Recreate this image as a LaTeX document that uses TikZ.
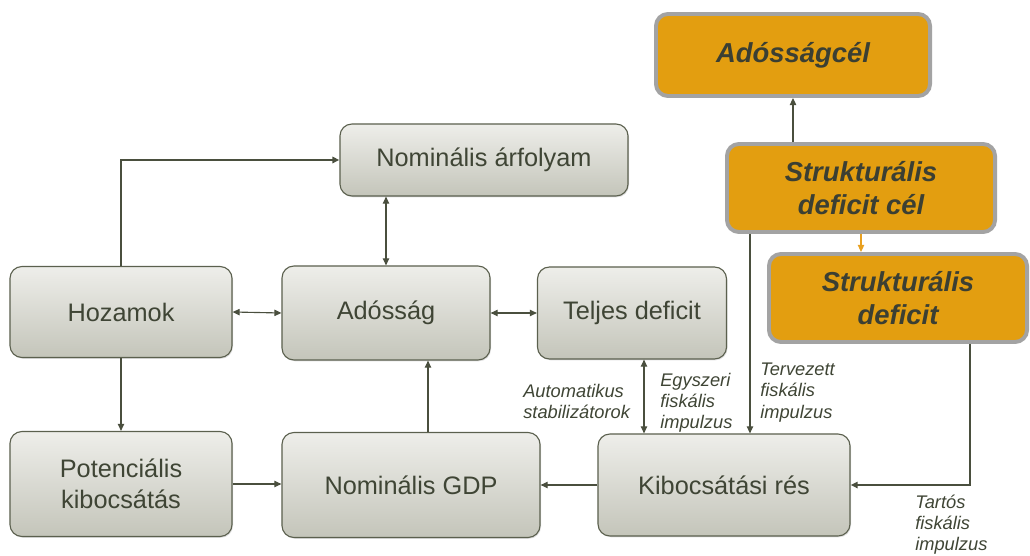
\documentclass[tikz,border=0pt]{standalone}
\usepackage{fontspec}
\setmainfont{Liberation Sans}
\usetikzlibrary{shadows,arrows.meta}

\definecolor{txtgreen}{HTML}{3F4535}
\definecolor{boxrim}{HTML}{5B604E}
\definecolor{boxtop}{HTML}{EEEEEA}
\definecolor{boxbottom}{HTML}{C4C5BA}
\definecolor{goalorange}{HTML}{E39E10}
\definecolor{goalrim}{HTML}{A3A3A3}
\definecolor{goaltext}{HTML}{3B3F33}
\definecolor{linkcol}{HTML}{4A4F3E}
\definecolor{linkorange}{HTML}{E8A020}

\tikzset{
  greybox/.style={draw=boxrim, line width=0.8pt, rounded corners=0.3cm,
    top color=boxtop, bottom color=boxbottom, text=txtgreen, align=center,
    font=\fontsize{18}{22}\selectfont,
    drop shadow={opacity=0.25, shadow xshift=0.7pt, shadow yshift=-0.9pt}},
  goalbox/.style={draw=goalrim, line width=2.8pt, rounded corners=0.3cm,
    fill=goalorange, text=goaltext, align=center,
    font=\fontsize{19.5}{24}\selectfont\bfseries\itshape,
    drop shadow={opacity=0.2, shadow xshift=0.7pt, shadow yshift=-0.9pt}},
  link/.style={draw=linkcol, line width=0.8pt},
  thicklink/.style={draw=linkcol, line width=1.6pt},
  note/.style={text=txtgreen, font=\fontsize{13}{15}\selectfont\itshape,
    align=left, inner sep=0pt, anchor=north west},
  >={Triangle[length=5pt,width=4.5pt]}
}

\begin{document}
\begin{tikzpicture}[x=0.025cm, y=-0.025cm]
  \useasboundingbox (0,0) rectangle (1030,556);

  % Grey boxes
  \node[greybox, minimum width=7.2cm, minimum height=1.8cm] (nomarf) at (484,160) {Nominális árfolyam};
  \node[greybox, minimum width=5.55cm, minimum height=2.275cm] (hozam) at (121,312) {Hozamok};
  \node[greybox, minimum width=5.2cm, minimum height=2.35cm] (adossag) at (386,313) {Adósság};
  \node[greybox, minimum width=4.725cm, minimum height=2.3cm] (teljes) at (632,313) {Teljes deficit};
  \node[greybox, minimum width=5.55cm, minimum height=2.625cm] (potenc) at (121,484) {Potenciális\\kibocsátás};
  \node[greybox, minimum width=6.45cm, minimum height=2.625cm] (nomgdp) at (411,485) {Nominális GDP};
  \node[greybox, minimum width=6.3cm, minimum height=2.55cm] (kibres) at (724,485) {Kibocsátási rés};

  % Orange target boxes
  \node[goalbox, minimum width=6.85cm, minimum height=2.05cm] (adoscel) at (793,55) {Adósságcél};
  \node[goalbox, minimum width=6.7cm, minimum height=2.2cm] (strcel) at (861,188) {Strukturális\\deficit cél};
  \node[goalbox, minimum width=6.45cm, minimum height=2.2cm] (strdef) at (898,298) {Strukturális\\deficit};

  % Helper points
  \coordinate (gdpup) at ([xshift=0.425cm]nomgdp.north);
  \coordinate (teljdown) at ([xshift=0.3cm]teljes.south);
  \coordinate (celdown) at ([xshift=-2.775cm]strcel.south);
  \coordinate (defdown) at ([xshift=1.8cm]strdef.south);

  % Connectors
  \draw[thicklink, ->] (hozam.north) |- (nomarf.west);
  \draw[link, <->] (adossag.north) -- (adossag.north |- nomarf.south);
  \draw[link, <->] (hozam.east) -- (adossag.west);
  \draw[link, <->] (adossag.east) -- (teljes.west);
  \draw[link, ->] (hozam.south) -- (potenc.north);
  \draw[link, ->] (potenc.east) -- (potenc.east -| nomgdp.west);
  \draw[link, ->] (gdpup) -- (gdpup |- adossag.south);
  \draw[link, <->] (teljdown) -- (teljdown |- kibres.north);
  \draw[link, ->] (celdown) -- (celdown |- kibres.north);
  \draw[thicklink, ->] (defdown) |- (kibres.east);
  \draw[link, ->] (kibres.west) -- (nomgdp.east);
  \draw[link, ->] (strcel.north -| adoscel.south) -- (adoscel.south);
  \draw[draw=linkorange, line width=0.8pt, ->] (strcel.south) -- (strcel.south |- strdef.north);

  % Labels
  \node[note] (autostab) at (523,384) {Automatikus\\stabilizátorok};
  \node[note] (egyszeri) at (660,373) {Egyszeri\\fiskális\\impulzus};
  \node[note] (tervezett) at (760,363) {Tervezett\\fiskális\\impulzus};
  \node[note] (tartos) at (915,495) {Tartós\\fiskális\\impulzus};
\end{tikzpicture}
\end{document}
